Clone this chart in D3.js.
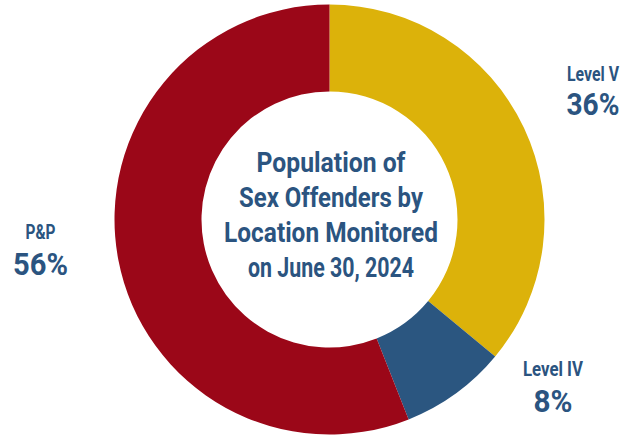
<!DOCTYPE html>
<html>
<head>
<meta charset="utf-8">
<script src="https://cdn.jsdelivr.net/npm/d3@7/dist/d3.min.js"></script>
<style>
  html, body { margin: 0; padding: 0; background: #fff; }
  svg { display: block; }
  text { font-family: "Roboto", "DejaVu Sans Condensed", sans-serif; font-weight: 700; fill: #2b5480; }
</style>
</head>
<body>
<svg id="chart" width="626" height="437"></svg>
<script>
// Monitoring location shares (percent)
const categories = ["Level V", "Level IV", "P&P"];
const values = [36, 8, 56];
const valueLabels = ["36%", "8%", "56%"];
const colors = ["#dcb20a", "#2b5680", "#9b0718"];
const titleLines = ["Population of", "Sex Offenders by", "Location Monitored", "on June 30, 2024"];

const cx = 329.5, cy = 219.5;
const outerR = 215, innerR = 128;

const svg = d3.select("#chart");
const g = svg.append("g").attr("transform", `translate(${cx},${cy})`);

const pie = d3.pie().sort(null).value(d => d.value);
const arc = d3.arc().innerRadius(innerR).outerRadius(outerR);
const data = categories.map((c, i) => ({ name: c, value: values[i], label: valueLabels[i], color: colors[i] }));

g.selectAll("path.slice")
  .data(pie(data))
  .join("path")
  .attr("class", "slice")
  .attr("d", arc)
  .attr("fill", d => d.data.color);

// Condensed-looking text: draw at natural width, then squeeze horizontally
function condensedText(str, x, y, size, width) {
  const t = svg.append("text")
    .attr("text-anchor", "middle")
    .attr("font-size", size)
    .text(str);
  const natural = t.node().getComputedTextLength();
  const sx = Math.min(1, width / natural);
  t.attr("transform", `translate(${x},${y}) scale(${sx},1)`);
  return t;
}

// Category and percentage labels placed outside the ring
const labelPos = {
  "Level V":  { x: 593, nameY: 80.5, valY: 115, nameW: 52, valW: 53 },
  "Level IV": { x: 553, nameY: 376, valY: 412, nameW: 60, valW: 39 },
  "P&P":      { x: 40.5, nameY: 238.5, valY: 275, nameW: 30, valW: 55 }
};

data.forEach(d => {
  const p = labelPos[d.name];
  condensedText(d.name, p.x, p.nameY, 20, p.nameW);
  condensedText(d.label, p.x, p.valY, 32, p.valW);
});

// Centre title
const titleBaselines = [172, 206.5, 242, 277];
const titleWidths = [149, 184, 214, 166];
titleLines.forEach((t, i) => {
  condensedText(t, 331, titleBaselines[i], 28, titleWidths[i]);
});
</script>
</body>
</html>
